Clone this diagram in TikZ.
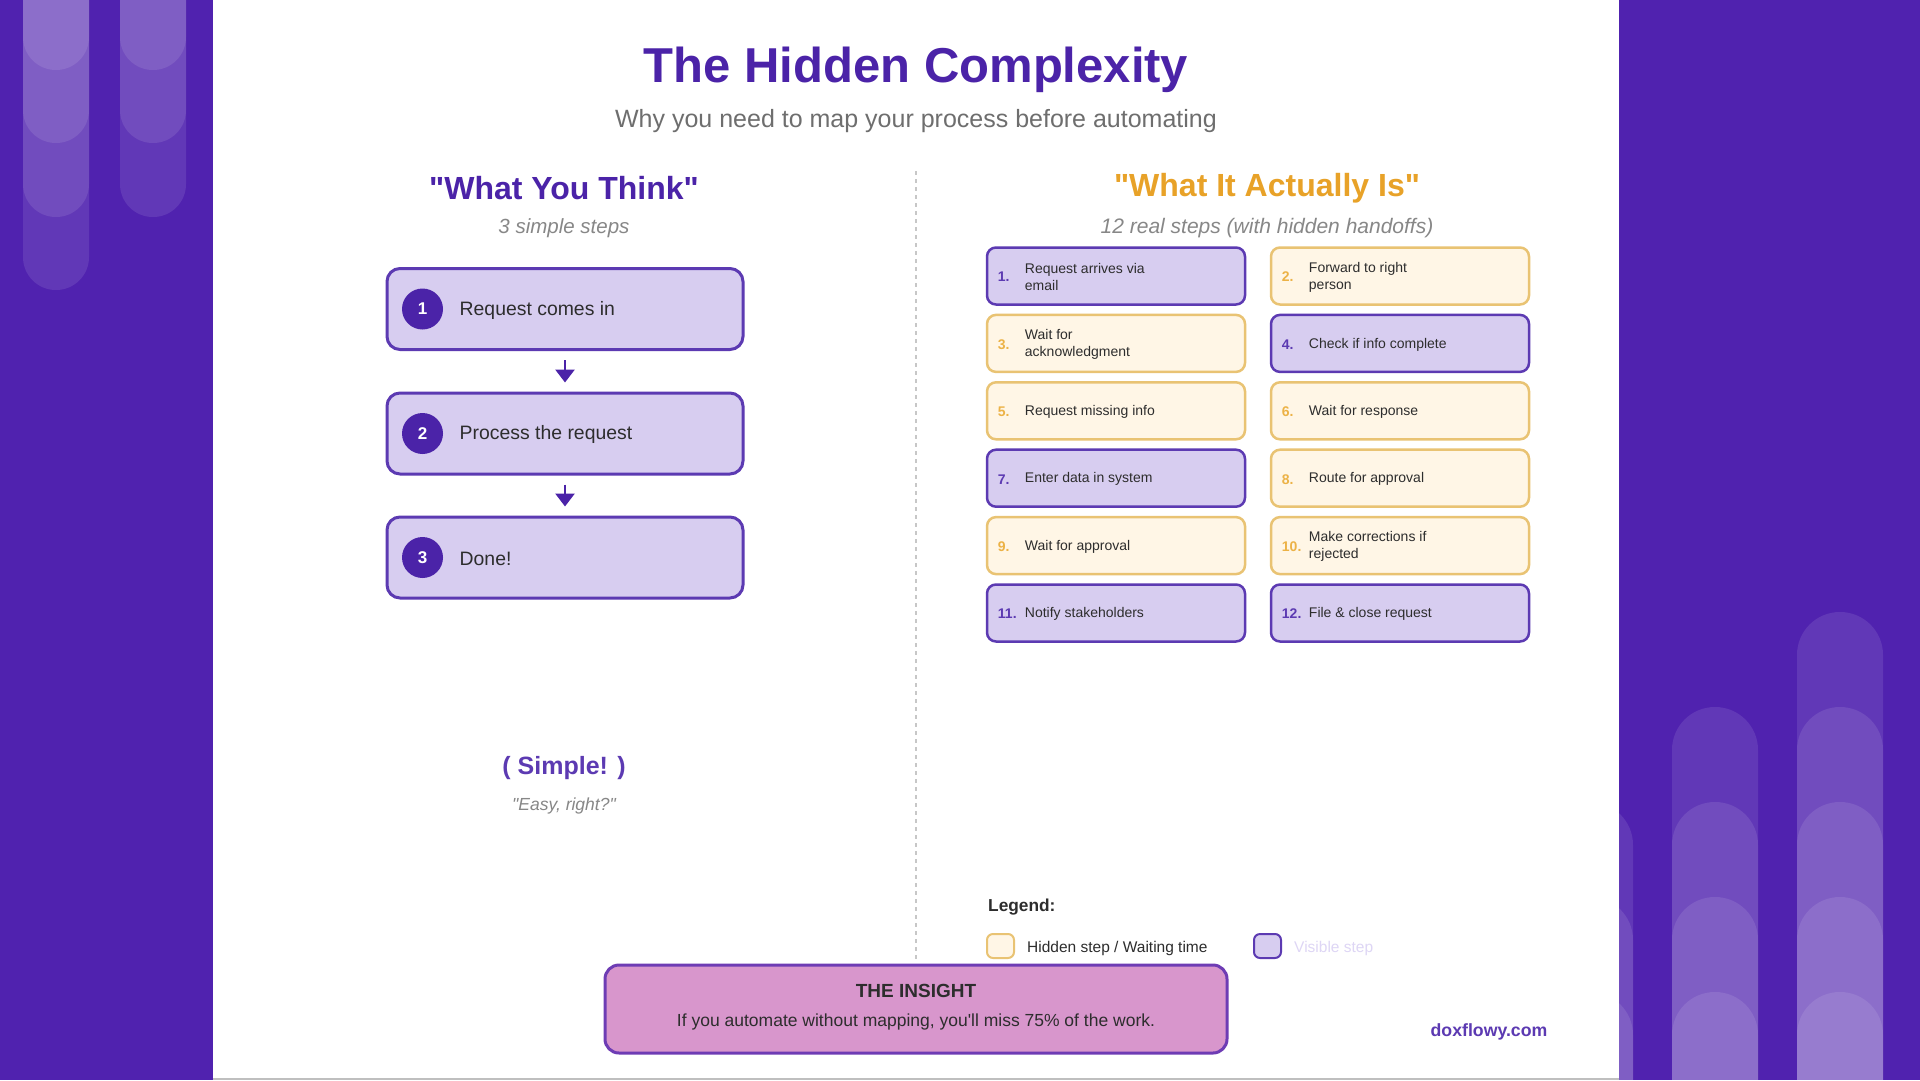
\documentclass[tikz,border=0pt]{standalone}
\usepackage{fontspec}
\setmainfont{Liberation Sans}[Ligatures=TeXOff]
\usetikzlibrary{arrows.meta, positioning}

\newcommand{\fsz}[2]{\fontsize{#1}{#2}\selectfont}

\definecolor{bgpurple}{RGB}{80,34,175}
\definecolor{deeppurple}{RGB}{75,35,168}
\definecolor{stepline}{RGB}{92,58,178}
\definecolor{stepfill}{RGB}{215,205,240}
\definecolor{hidfill}{RGB}{255,246,230}
\definecolor{hidline}{RGB}{233,195,115}
\definecolor{hidgold}{RGB}{236,178,70}
\definecolor{actorange}{RGB}{232,162,40}
\definecolor{insfill}{RGB}{216,150,204}
\definecolor{insline}{RGB}{110,60,180}
\definecolor{softgray}{RGB}{110,110,110}
\definecolor{captiongray}{RGB}{135,135,135}
\definecolor{textdark}{RGB}{45,45,45}

\tikzset{
  bigstep/.style={draw=stepline, line width=3pt, fill=stepfill, rounded corners=13pt,
    minimum width=356pt, minimum height=81pt},
  stepnum/.style={circle, fill=deeppurple, minimum size=41pt, inner sep=0pt,
    text=white, font=\fsz{17}{20}\bfseries},
  steptext/.style={anchor=west, inner sep=0pt, text=textdark, font=\fsz{19.4}{23}},
  visbox/.style={draw=stepline, line width=2.5pt, fill=stepfill, rounded corners=9pt,
    minimum width=258pt, minimum height=57pt},
  hidbox/.style={draw=hidline, line width=2.5pt, fill=hidfill, rounded corners=9pt,
    minimum width=258pt, minimum height=57pt},
  visnum/.style={anchor=west, inner sep=0pt, text=stepline, font=\fsz{14}{17}\bfseries},
  hidnum/.style={anchor=west, inner sep=0pt, text=hidgold, font=\fsz{14}{17}\bfseries},
  gridtext/.style={anchor=west, inner sep=0pt, align=left, text=textdark, font=\fsz{14}{17}},
  flowarrow/.style={-{Triangle[width=19pt,length=13pt]}, line width=2.8pt, draw=deeppurple,
    shorten <=9pt, shorten >=9pt},
  bar/.style={fill=white, fill opacity=0.1},
}

\begin{document}
\begin{tikzpicture}[x=1pt, y=-1pt]
  \useasboundingbox (0,0) rectangle (1920,1080);
  \clip (0,0) rectangle (1920,1080);
  \fill[bgpurple] (0,0) rectangle (1920,1080);

  % stripes on both sides
  \foreach \x/\e in {23/70, 23/143, 23/217, 23/290, 120/70, 120/143, 120/217}
    \fill[bar, rounded corners=32.9pt] (\x,-80) rectangle (\x+66,\e);
  \foreach \x/\s in {1547/802, 1547/897, 1547/992, 1672/707, 1672/802, 1672/897, 1672/992,
                     1797/612, 1797/707, 1797/802, 1797/897, 1797/992}
    \fill[bar, rounded corners=42.9pt] (\x,\s) rectangle (\x+86,1160);

  % white sheet
  \fill[white] (213,0) rectangle (1619,1080);
  \draw[black!25, line width=1.5pt] (213,1079) -- (1619,1079);

  % title
  \node[font=\fsz{49}{56}\bfseries, text=deeppurple] (title) at (916,70) {The Hidden Complexity};
  \node[font=\fsz{25}{29}, text=softgray] (subtitle) at (916,121)
    {Why you need to map your process before automating};

  % divider
  \coordinate (divtop) at (916,171);
  \coordinate (divbot) at (916,961);
  \draw[black!22, line width=1.5pt, dash pattern=on 4pt off 4pt] (divtop) -- (divbot);

  % left side
  \node[font=\fsz{32}{36}\bfseries, text=deeppurple] (thinkhead) at (564,188) {"What You Think"};
  \node[font=\fsz{20.5}{24}\itshape, text=captiongray] (thinksub) at (564,228) {3 simple steps};

  \node[bigstep] (b1) at (565,309) {};
  \node[bigstep] (b2) at (565,433.5) {};
  \node[bigstep] (b3) at (565,557.5) {};
  \foreach \i/\what in {1/Request comes in, 2/Process the request, 3/Done!} {
    \node[stepnum] (c\i) at ([xshift=37pt]b\i.west) {\i};
    \node[steptext] (l\i) at ([xshift=74pt,yshift=-1pt]b\i.west) {\what};
  }
  \draw[flowarrow] (b1) -- (b2);
  \draw[flowarrow] (b2) -- (b3);

  \node[font=\fsz{25}{29}\bfseries, text=stepline] (simple) at (564,768) {( Simple! )};
  \node[font=\fsz{17.5}{21}\itshape, text=captiongray] (easy) at (564,806) {"Easy, right?"};

  % right side
  \node[font=\fsz{32}{36}\bfseries, text=actorange] (actualhead) at (1267,188) {"What It Actually Is"};
  \node[font=\fsz{21}{25}\itshape, text=captiongray] (actualsub) at (1267,228)
    {12 real steps (with hidden handoffs)};

  \foreach \n/\c/\r/\kind/\what in {
      1/0/0/vis/{Request arrives via\\email},
      2/1/0/hid/{Forward to right\\person},
      3/0/1/hid/{Wait for\\acknowledgment},
      4/1/1/vis/{Check if info complete},
      5/0/2/hid/{Request missing info},
      6/1/2/hid/{Wait for response},
      7/0/3/vis/{Enter data in system},
      8/1/3/hid/{Route for approval},
      9/0/4/hid/{Wait for approval},
      10/1/4/hid/{Make corrections if\\rejected},
      11/0/5/vis/{Notify stakeholders},
      12/1/5/vis/{File \& close request}} {
    \node[\kind box] (s\n) at ({1116+284*\c},{276+67.4*\r}) {};
    \node[\kind num] (n\n) at ([xshift=12pt,yshift=-1pt]s\n.west) {\n.};
    \node[gridtext] (t\n) at ([xshift=39pt,yshift=-1pt]s\n.west) {\what};
  }

  % legend
  \node[anchor=west, inner sep=0pt, font=\fsz{17.3}{20}\bfseries, text=textdark] (legend)
    at (988,907) {Legend:};
  \node[hidbox, minimum width=27pt, minimum height=24pt, rounded corners=6pt, line width=2pt]
    (keyhid) at (1000.5,946) {};
  \node[gridtext, font=\fsz{15.5}{18}] (keyhidtext) at ([xshift=12pt,yshift=-2pt]keyhid.east)
    {Hidden step / Waiting time};
  \node[visbox, minimum width=27pt, minimum height=24pt, rounded corners=6pt, line width=2pt]
    (keyvis) at (1267.5,946) {};
  \node[gridtext, font=\fsz{15.5}{18}, text={rgb,255:red,222;green,214;blue,245}] (keyvistext)
    at ([xshift=12pt,yshift=-2pt]keyvis.east) {Visible step};

  % insight
  \node[draw=insline, line width=3pt, fill=insfill, rounded corners=14pt,
    minimum width=622pt, minimum height=88pt] (insight) at (916,1009) {};
  \node[font=\fsz{19}{22}\bfseries, text=textdark] (insighthead) at ([yshift=18pt]insight.center)
    {THE INSIGHT};
  \node[font=\fsz{17.5}{21}, text=textdark] (insighttext) at ([yshift=-13pt]insight.center)
    {If you automate without mapping, you'll miss 75\% of the work.};

  \node[font=\fsz{17.7}{21}\bfseries, text=stepline] (site) at (1489,1032) {doxflowy.com};
\end{tikzpicture}
\end{document}
